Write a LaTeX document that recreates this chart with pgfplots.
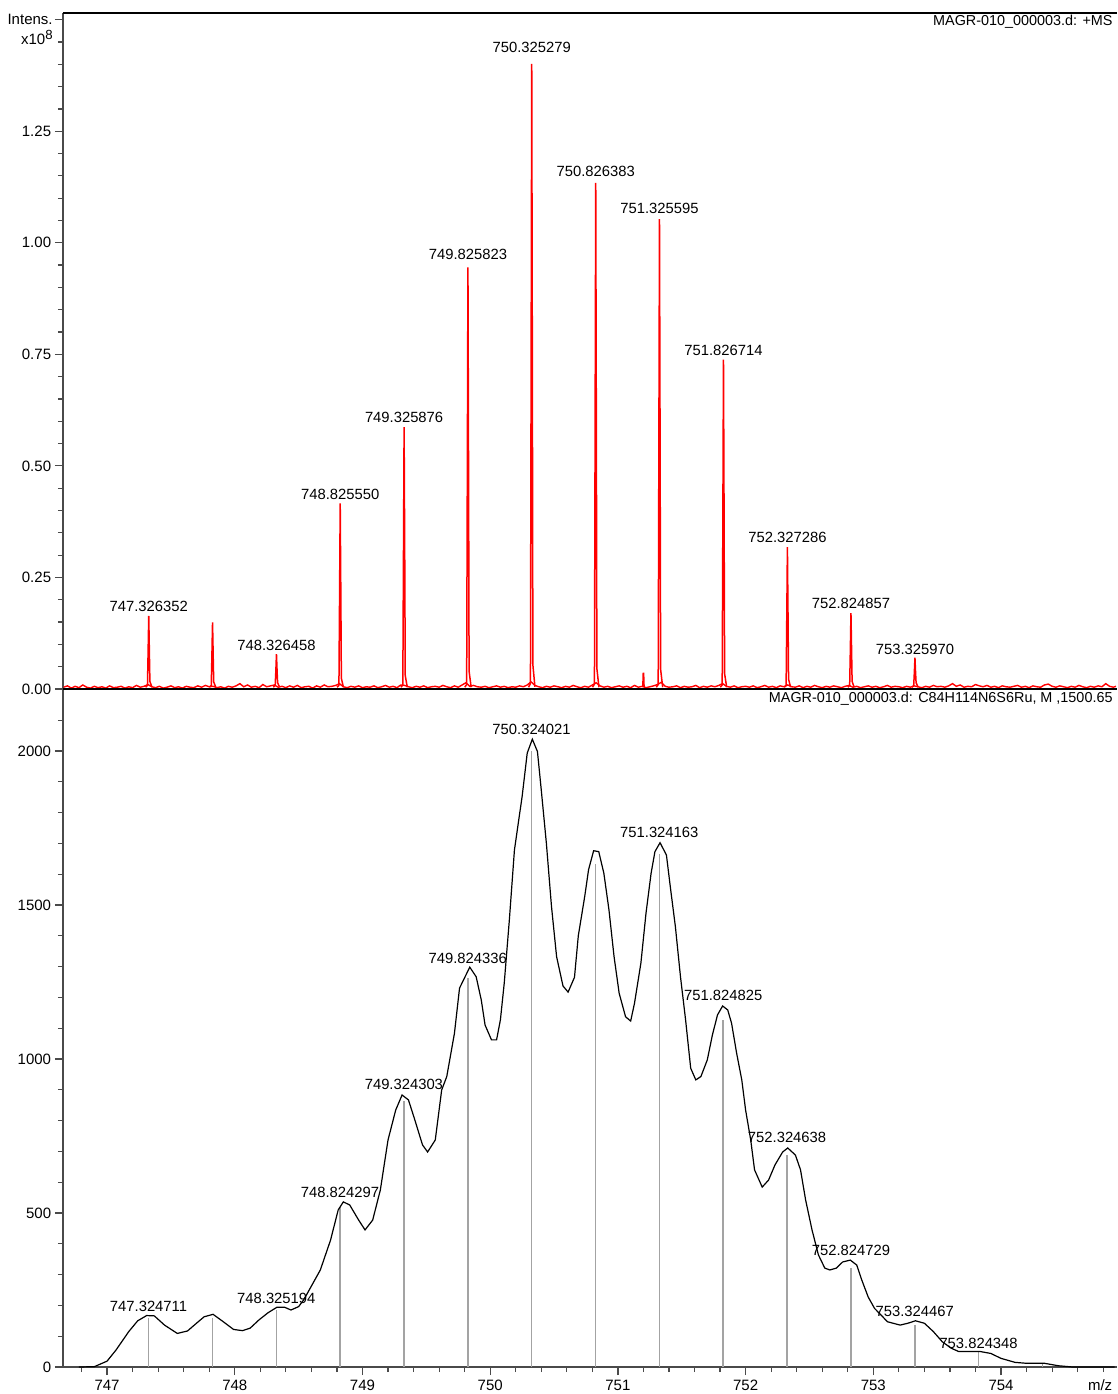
\documentclass[border=0pt]{standalone}
\usepackage{fontspec}
\setmainfont{Liberation Sans}
\usepackage{pgfplots}
\pgfplotsset{compat=1.18}

\definecolor{axisgray}{HTML}{4A4A4A}
\definecolor{stickgray}{HTML}{A3A3A3}
\definecolor{msred}{HTML}{FF0000}

\newcommand{\lblfont}{\fontsize{7.4}{8.5}\selectfont}
\newcommand{\hdrfont}{\fontsize{7.2}{8.5}\selectfont}
\newcommand{\tickfont}{\fontsize{7.5}{9}\selectfont}

\tikzset{
  mslabel/.style={anchor=center, font=\lblfont, inner sep=0pt},
  hdr/.style={anchor=east, font=\hdrfont, inner sep=0pt, xshift=-2pt},
  ylbl/.style={anchor=base east, font=\tickfont, inner sep=0pt, xshift=-5pt},
}

\pgfplotsset{
  msaxis/.style={
    scale only axis,
    width=527pt,
    anchor=south west,
    xmin=746.655, xmax=754.908,
    enlargelimits=false,
    clip=false,
    tick align=outside,
    major tick length=4pt,
    minor tick length=2.5pt,
    axis line style={axisgray, line width=1pt},
    every tick/.style={axisgray, line width=0.6pt},
    every minor tick/.style={axisgray, line width=0.6pt},
    /pgf/number format/assume math mode=true,
    tick label style={font=\tickfont, text=black},
    yticklabel style={anchor=east, inner sep=0pt},
    xticklabel style={anchor=north, inner sep=0pt},
    yticklabel shift=1.75pt,
    xticklabel shift=2.5pt,
  },
  peak/.style={msred, line width=0.75pt, mark=none},
}

\begin{document}
\begin{tikzpicture}
% ---------------- simulated isotope pattern ----------------
\begin{axis}[msaxis,
  at={(0pt,0pt)},
  height=339pt,
  ymin=0, ymax=2201,
  axis x line*=bottom, axis y line*=left,
  xtick={747,748,749,750,751,752,753,754},
  minor xtick={746.8,747.2,747.4,747.6,747.8,748.2,748.4,748.6,748.8,749.2,749.4,749.6,749.8,750.2,750.4,750.6,750.8,751.2,751.4,751.6,751.8,752.2,752.4,752.6,752.8,753.2,753.4,753.6,753.8,754.2,754.4,754.6,754.8},
  ytick={0,500,1000,1500,2000},
  minor ytick={100,200,300,400,600,700,800,900,1100,1200,1300,1400,1600,1700,1800,1900,2100},
  yticklabel style={/pgf/number format/1000 sep={}},
  xticklabel style={/pgf/number format/1000 sep={}},
]
% stick spectrum
\addplot[ycomb, stickgray, line width=0.75pt, mark=none] coordinates {
  (747.324711,160) (747.824800,160) (748.325194,184) (748.824297,520)
  (749.324303,865) (749.824336,1262) (750.324021,2000) (750.824000,1632)
  (751.324163,1666) (751.824825,1127) (752.324638,688) (752.824729,321)
  (753.324467,136) (753.824348,50) (754.324300,12)
};
% profile
\addplot[black, line width=0.6pt, mark=none] coordinates {
  (746.78,0) (746.90,1) (747.00,19) (747.07,55) (747.17,115) (747.24,150)
  (747.31,167) (747.37,166) (747.45,136) (747.55,109) (747.63,117) (747.70,142)
  (747.76,163) (747.83,171) (747.91,147) (747.99,122) (748.06,118) (748.12,126)
  (748.19,153) (748.26,176) (748.33,194) (748.39,194) (748.44,185) (748.50,196)
  (748.54,218) (748.67,315) (748.75,412) (748.81,510) (748.85,536) (748.90,526)
  (748.97,477) (749.02,445) (749.08,477) (749.14,575) (749.20,737) (749.26,834)
  (749.31,883) (749.36,867) (749.41,802) (749.47,721) (749.51,698) (749.57,737)
  (749.62,899) (749.66,943) (749.72,1083) (749.76,1230) (749.84,1298) (749.89,1267)
  (749.93,1192) (749.96,1110) (750.01,1062) (750.05,1062) (750.08,1127) (750.11,1246)
  (750.15,1451) (750.19,1679) (750.25,1852) (750.29,1993) (750.33,2038) (750.37,1998)
  (750.40,1873) (750.44,1700) (750.48,1495) (750.52,1332) (750.57,1237) (750.61,1217)
  (750.66,1265) (750.69,1400) (750.74,1527) (750.77,1614) (750.81,1676) (750.85,1673)
  (750.89,1603) (750.93,1484) (750.97,1332) (751.01,1213) (751.06,1137) (751.10,1123)
  (751.13,1181) (751.18,1311) (751.22,1473) (751.26,1603) (751.29,1673) (751.33,1702)
  (751.38,1662) (751.41,1560) (751.45,1430) (751.49,1267) (751.53,1127) (751.57,970)
  (751.61,932) (751.65,943) (751.70,997) (751.74,1078) (751.78,1143) (751.82,1172)
  (751.86,1159) (751.89,1116) (751.93,1018) (751.97,932) (752.00,834) (752.04,737)
  (752.07,640) (752.13,584) (752.18,607) (752.23,656) (752.29,698) (752.33,711)
  (752.39,688) (752.43,640) (752.47,542) (752.52,445) (752.57,364) (752.62,321)
  (752.66,315) (752.71,321) (752.76,341) (752.82,347) (752.87,331) (752.91,282)
  (752.96,227) (753.01,190) (753.06,169) (753.11,147) (753.21,136) (753.27,142)
  (753.33,150) (753.40,142) (753.47,115) (753.54,82) (753.61,61) (753.67,50)
  (753.84,50) (753.92,44) (754.00,28) (754.11,15) (754.20,12) (754.34,12)
  (754.45,4) (754.56,0) (754.67,0) (754.89,0)
};
\node[mslabel] at (axis cs:747.324711,198)  {747.324711};
\node[mslabel] at (axis cs:748.325194,224)  {748.325194};
\node[mslabel] at (axis cs:748.824297,568)  {748.824297};
\node[mslabel] at (axis cs:749.324303,919)  {749.324303};
\node[mslabel] at (axis cs:749.824336,1328) {749.824336};
\node[mslabel] at (axis cs:750.324021,2071) {750.324021};
\node[mslabel] at (axis cs:751.324163,1737) {751.324163};
\node[mslabel] at (axis cs:751.824825,1205) {751.824825};
\node[mslabel] at (axis cs:752.324638,744)  {752.324638};
\node[mslabel] at (axis cs:752.824729,380)  {752.824729};
\node[mslabel] at (axis cs:753.324467,182)  {753.324467};
\node[mslabel] at (axis cs:753.824348,78)   {753.824348};
\node[hdr] at (axis cs:754.908,2169) {MAGR-010\_000003.d: C84H114N6S6Ru, M ,1500.65};
\node[anchor=center, font=\tickfont, inner sep=0pt] at (axis cs:754.776,-58) {m/z};
\end{axis}

% ---------------- measured spectrum ----------------
\begin{axis}[msaxis,
  at={(0pt,339pt)},
  height=338pt,
  ymin=0, ymax=1.515,
  axis x line=none, axis y line*=left,
  xtick=\empty,
  ytick={0,0.25,0.5,0.75,1,1.25},
  extra y ticks={1.5}, extra y tick labels={},
  minor ytick={0.05,0.1,0.15,0.2,0.3,0.35,0.4,0.45,0.55,0.6,0.65,0.7,0.8,0.85,0.9,0.95,1.05,1.1,1.15,1.2,1.3,1.35,1.4,1.45},
  yticklabel style={/pgf/number format/fixed, /pgf/number format/fixed zerofill, /pgf/number format/precision=2},
]
% baseline noise
\addplot[msred, line width=0.7pt, mark=none] coordinates {
(746.66,0.004)(746.69,0.007)(746.72,0.002)(746.75,0.006)(746.78,0.003)(746.81,0.009)(746.84,0.004)(746.87,0.002)(746.90,0.006)(746.93,0.003)
(746.96,0.005)(746.99,0.002)(747.02,0.007)(747.05,0.003)(747.08,0.004)(747.11,0.006)(747.14,0.002)(747.17,0.005)(747.20,0.003)(747.23,0.008)
(747.26,0.004)(747.29,0.006)(747.32,0.010)(747.35,0.005)(747.38,0.003)(747.41,0.006)(747.44,0.002)(747.47,0.004)(747.50,0.007)(747.53,0.003)
(747.56,0.005)(747.59,0.002)(747.62,0.006)(747.65,0.004)(747.68,0.003)(747.71,0.007)(747.74,0.004)(747.77,0.008)(747.80,0.005)(747.83,0.006)
(747.86,0.003)(747.89,0.005)(747.92,0.002)(747.95,0.006)(747.98,0.004)(748.01,0.007)(748.04,0.012)(748.07,0.005)(748.10,0.009)(748.13,0.004)
(748.16,0.006)(748.19,0.003)(748.22,0.010)(748.25,0.005)(748.28,0.007)(748.31,0.009)(748.34,0.004)(748.37,0.006)(748.40,0.003)(748.43,0.007)
(748.46,0.004)(748.49,0.008)(748.52,0.003)(748.55,0.005)(748.58,0.006)(748.61,0.002)(748.64,0.007)(748.67,0.004)(748.70,0.009)(748.73,0.005)
(748.76,0.006)(748.79,0.008)(748.82,0.012)(748.85,0.005)(748.88,0.003)(748.91,0.006)(748.94,0.004)(748.97,0.007)(749.00,0.003)(749.03,0.005)
(749.06,0.004)(749.09,0.007)(749.12,0.003)(749.15,0.005)(749.18,0.008)(749.21,0.004)(749.24,0.006)(749.27,0.003)(749.30,0.009)(749.33,0.008)
(749.36,0.005)(749.39,0.003)(749.42,0.006)(749.45,0.004)(749.48,0.007)(749.51,0.003)(749.54,0.005)(749.57,0.006)(749.60,0.004)(749.63,0.008)
(749.66,0.005)(749.69,0.003)(749.72,0.007)(749.75,0.004)(749.78,0.009)(749.81,0.014)(749.84,0.006)(749.87,0.008)(749.90,0.005)(749.93,0.004)
(749.96,0.006)(749.99,0.003)(750.02,0.005)(750.05,0.007)(750.08,0.004)(750.11,0.006)(750.14,0.003)(750.17,0.005)(750.20,0.004)(750.23,0.007)
(750.26,0.005)(750.29,0.009)(750.32,0.016)(750.35,0.008)(750.38,0.005)(750.41,0.003)(750.44,0.006)(750.47,0.004)(750.50,0.007)(750.53,0.005)
(750.56,0.003)(750.59,0.006)(750.62,0.004)(750.65,0.008)(750.68,0.005)(750.71,0.003)(750.74,0.006)(750.77,0.004)(750.80,0.009)(750.83,0.014)
(750.86,0.007)(750.89,0.004)(750.92,0.006)(750.95,0.003)(750.98,0.005)(751.01,0.007)(751.04,0.004)(751.07,0.006)(751.10,0.003)(751.13,0.008)
(751.16,0.004)(751.19,0.006)(751.22,0.003)(751.25,0.005)(751.28,0.007)(751.31,0.010)(751.34,0.015)(751.37,0.006)(751.40,0.004)(751.43,0.005)
(751.46,0.007)(751.49,0.003)(751.52,0.006)(751.55,0.004)(751.58,0.005)(751.61,0.008)(751.64,0.003)(751.67,0.006)(751.70,0.004)(751.73,0.007)
(751.76,0.005)(751.79,0.008)(751.82,0.012)(751.85,0.006)(751.88,0.004)(751.91,0.007)(751.94,0.003)(751.97,0.005)(752.00,0.006)(752.03,0.004)
(752.06,0.007)(752.09,0.003)(752.12,0.005)(752.15,0.008)(752.18,0.004)(752.21,0.006)(752.24,0.003)(752.27,0.007)(752.30,0.005)(752.33,0.009)
(752.36,0.005)(752.39,0.004)(752.42,0.007)(752.45,0.003)(752.48,0.006)(752.51,0.004)(752.54,0.008)(752.57,0.005)(752.60,0.003)(752.63,0.006)
(752.66,0.004)(752.69,0.007)(752.72,0.005)(752.75,0.003)(752.78,0.006)(752.81,0.008)(752.84,0.004)(752.87,0.006)(752.90,0.003)(752.93,0.005)
(752.96,0.007)(752.99,0.004)(753.02,0.006)(753.05,0.003)(753.08,0.005)(753.11,0.008)(753.14,0.004)(753.17,0.006)(753.20,0.005)(753.23,0.003)
(753.26,0.006)(753.29,0.004)(753.32,0.007)(753.35,0.005)(753.38,0.003)(753.41,0.006)(753.44,0.004)(753.47,0.008)(753.50,0.005)(753.53,0.006)
(753.56,0.004)(753.59,0.007)(753.62,0.012)(753.65,0.006)(753.68,0.009)(753.71,0.004)(753.74,0.006)(753.77,0.005)(753.80,0.010)(753.83,0.007)
(753.86,0.005)(753.89,0.008)(753.92,0.004)(753.95,0.006)(753.98,0.003)(754.01,0.007)(754.04,0.005)(754.07,0.004)(754.10,0.006)(754.13,0.008)
(754.16,0.004)(754.19,0.006)(754.22,0.003)(754.25,0.007)(754.28,0.005)(754.31,0.004)(754.34,0.009)(754.37,0.011)(754.40,0.006)(754.43,0.004)
(754.46,0.007)(754.49,0.005)(754.52,0.003)(754.55,0.006)(754.58,0.004)(754.61,0.008)(754.64,0.005)(754.67,0.003)(754.70,0.006)(754.73,0.004)
(754.76,0.007)(754.79,0.005)(754.82,0.012)(754.85,0.006)(754.88,0.004)(754.90,0.006)
};
% isotope peaks
\addplot[peak] coordinates {(747.3014,0.004)(747.3164,0.008)(747.3214,0.082)(747.3264,0.164)(747.3314,0.082)(747.3354,0.017)(747.3514,0.004)};
\addplot[peak] coordinates {(747.8010,0.004)(747.8160,0.008)(747.8210,0.075)(747.8260,0.149)(747.8310,0.075)(747.8350,0.016)(747.8510,0.004)};
\addplot[peak] coordinates {(748.3015,0.004)(748.3165,0.008)(748.3215,0.039)(748.3265,0.078)(748.3315,0.039)(748.3355,0.014)(748.3515,0.004)};
\addplot[peak] coordinates {(748.8006,0.004)(748.8156,0.008)(748.8206,0.208)(748.8256,0.416)(748.8306,0.208)(748.8346,0.024)(748.8506,0.004)};
\addplot[peak] coordinates {(749.3009,0.004)(749.3159,0.009)(749.3209,0.294)(749.3259,0.587)(749.3309,0.294)(749.3349,0.030)(749.3509,0.004)};
\addplot[peak] coordinates {(749.8008,0.004)(749.8158,0.010)(749.8208,0.473)(749.8258,0.945)(749.8308,0.473)(749.8348,0.040)(749.8508,0.004)};
\addplot[peak] coordinates {(750.3003,0.004)(750.3153,0.012)(750.3203,0.700)(750.3253,1.401)(750.3303,0.700)(750.3343,0.054)(750.3503,0.005)};
\addplot[peak] coordinates {(750.8014,0.004)(750.8164,0.011)(750.8214,0.567)(750.8264,1.134)(750.8314,0.567)(750.8354,0.046)(750.8514,0.004)};
\addplot[peak] coordinates {(751.3006,0.004)(751.3156,0.010)(751.3206,0.527)(751.3256,1.053)(751.3306,0.527)(751.3346,0.044)(751.3506,0.004)};
\addplot[peak] coordinates {(751.8017,0.004)(751.8167,0.009)(751.8217,0.369)(751.8267,0.738)(751.8317,0.369)(751.8357,0.034)(751.8517,0.004)};
\addplot[peak] coordinates {(752.3023,0.004)(752.3173,0.008)(752.3223,0.159)(752.3273,0.318)(752.3323,0.159)(752.3363,0.022)(752.3523,0.004)};
\addplot[peak] coordinates {(752.7999,0.004)(752.8149,0.008)(752.8199,0.085)(752.8249,0.170)(752.8299,0.085)(752.8339,0.017)(752.8499,0.004)};
\addplot[peak] coordinates {(753.3010,0.004)(753.3160,0.007)(753.3210,0.035)(753.3260,0.070)(753.3310,0.035)(753.3350,0.014)(753.3510,0.004)};
\addplot[peak] coordinates {(751.1950,0.004)(751.1985,0.035)(751.2015,0.035)(751.2050,0.004)};
% frame lines of the upper panel
\draw[black, line width=1.1pt] (rel axis cs:0,0) -- (rel axis cs:1,0);
\draw[black, line width=0.6pt] (rel axis cs:0,1) -- (rel axis cs:1,1);
\node[mslabel] at (axis cs:747.326352,0.184)  {747.326352};
\node[mslabel] at (axis cs:748.326458,0.0987) {748.326458};
\node[mslabel] at (axis cs:748.825550,0.437)  {748.825550};
\node[mslabel] at (axis cs:749.325876,0.608)  {749.325876};
\node[mslabel] at (axis cs:749.825823,0.975)  {749.825823};
\node[mslabel] at (axis cs:750.325279,1.437)  {750.325279};
\node[mslabel] at (axis cs:750.826383,1.159)  {750.826383};
\node[mslabel] at (axis cs:751.325595,1.078)  {751.325595};
\node[mslabel] at (axis cs:751.826714,0.758)  {751.826714};
\node[mslabel] at (axis cs:752.327286,0.339)  {752.327286};
\node[mslabel] at (axis cs:752.824857,0.191)  {752.824857};
\node[mslabel] at (axis cs:753.325970,0.0897) {753.325970};
\node[hdr] at (axis cs:754.908,1.4955) {MAGR-010\_000003.d: +MS};
\node[ylbl] at (axis cs:746.655,1.489) {Intens.};
\node[ylbl] at (axis cs:746.655,1.444) {x10\raisebox{2.6pt}{\fontsize{6.6}{7}\selectfont 8}};
\end{axis}
\pgfresetboundingbox
\path[use as bounding box] (-31.5pt,-13.5pt) rectangle (527.5pt,683.5pt);
\end{tikzpicture}
\end{document}
